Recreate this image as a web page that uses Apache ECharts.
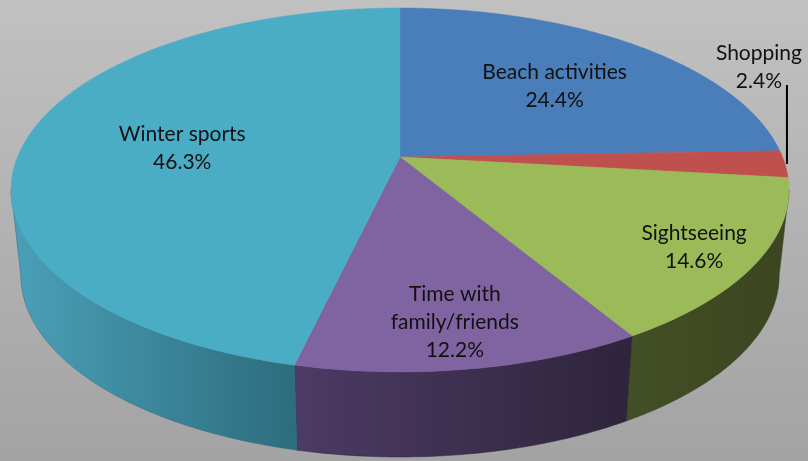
<!DOCTYPE html>
<html style="height: 100%">
<head>
    <meta charset="utf-8">
</head>
<body style="height: 100%; width: 100%; margin: 0;">
    <div id="container" style="height: 461px; width: 808px;"></div>
    <script type="text/javascript" src="https://cdn.jsdelivr.net/npm/echarts@6/dist/echarts.min.js"></script>
    <script type="text/javascript">
        // chart data
        var categories = ['Beach activities', 'Shopping', 'Sightseeing', 'Time with\nfamily/friends', 'Winter sports'];
        var values = [24.4, 2.4, 14.6, 12.2, 46.3];
        var topColors = ['#4a7ebb', '#c0504d', '#9bbb59', '#8064a2', '#4bacc6'];
        var wallColors = [['#3a6491', '#2c4c70'], ['#983f3d', '#7a3230'], ['#434f26', '#3b4520'],
                          ['#4c3b64', '#2e243c'], ['#4aa0b8', '#2d6d7d']];

        // label placement: radius fraction on the top face, or 'outside' for a leader line
        var labelRadius = [0.63, 'outside', 0.84, 0.80, 0.58];

        // projection of the tilted pie (perspective view of a circle)
        var cx = 400, cy = 157, A = 382.5, B = 176, k = 0.1813, depth = 85, bottomScale = 0.975;
        var total = values.reduce(function (s, v) { return s + v; }, 0);
        var starts = [];
        var acc = 0;
        values.forEach(function (v) { starts.push(acc / total * Math.PI * 2); acc += v; });

        function project(t, f) {
            var u = f * Math.sin(t), v = f * Math.cos(t);
            var d = 1 + k * v;
            return [cx + A * u / d, cy - B * v / d];
        }

        var visFrom = Math.acos(-k), visTo = Math.PI * 2 - Math.acos(-k);

        function arc(a0, a1) {
            var pts = [];
            var n = Math.max(2, Math.ceil((a1 - a0) / (Math.PI / 180)));
            for (var j = 0; j <= n; j++) {
                pts.push(project(a0 + (a1 - a0) * j / n, 1));
            }
            return pts;
        }

        function renderItem(params, api) {
            var i = params.dataIndex;
            var a0 = starts[i];
            var a1 = a0 + api.value(0) / total * Math.PI * 2;
            var children = [];

            var top = [project(0, 0)].concat(arc(a0, a1));
            children.push({
                type: 'polygon', z2: 10,
                shape: { points: top },
                style: { fill: topColors[i], stroke: topColors[i], lineWidth: 0.5 }
            });

            var w0 = Math.max(a0, visFrom), w1 = Math.min(a1, visTo);
            if (w1 > w0) {
                var upper = arc(w0, w1);
                var lower = upper.map(function (p) {
                    return [cx + (p[0] - cx) * bottomScale, p[1] + depth];
                }).reverse();
                var xs = upper.map(function (p) { return p[0]; });
                children.push({
                    type: 'polygon', z2: 1,
                    shape: { points: upper.concat(lower) },
                    style: {
                        fill: {
                            type: 'linear', global: true,
                            x: Math.min.apply(null, xs), y: 0, x2: Math.max.apply(null, xs), y2: 0,
                            colorStops: [{ offset: 0, color: wallColors[i][0] }, { offset: 1, color: wallColors[i][1] }]
                        },
                        stroke: wallColors[i][1], lineWidth: 0.5
                    }
                });
            }

            var mid = (a0 + a1) / 2;
            var text = categories[i] + '\n' + api.value(0).toFixed(1) + '%';
            var lp;
            if (labelRadius[i] === 'outside') {
                var edge = project(mid, 1);
                children.push({
                    type: 'line', z2: 15,
                    shape: { x1: edge[0] + 2, y1: edge[1], x2: edge[0] + 2, y2: edge[1] - 79 },
                    style: { stroke: '#000', lineWidth: 2 }
                });
                lp = [edge[0] - 26, edge[1] - 100];
            } else {
                lp = project(mid, labelRadius[i]);
            }
            children.push({
                type: 'text', z2: 20,
                x: lp[0], y: lp[1] + 3,
                style: {
                    text: text, fill: '#111', fontSize: 21, fontFamily: 'Lato',
                    align: 'center', verticalAlign: 'middle', lineHeight: 28
                }
            });

            return { type: 'group', children: children };
        }

        var dom = document.getElementById('container');
        var myChart = echarts.init(dom);
        var option = {
            animation: false,
            backgroundColor: {
                type: 'linear', x: 0, y: 0, x2: 0, y2: 1,
                colorStops: [{ offset: 0, color: '#c1c1c1' }, { offset: 1, color: '#a3a3a3' }]
            },
            series: [{
                type: 'custom',
                coordinateSystem: 'none',
                silent: true,
                renderItem: renderItem,
                data: values.map(function (v, i) { return { value: v, name: categories[i] }; })
            }]
        };
        myChart.setOption(option);
        window.onresize = myChart.resize;
    </script>
</body>
</html>
